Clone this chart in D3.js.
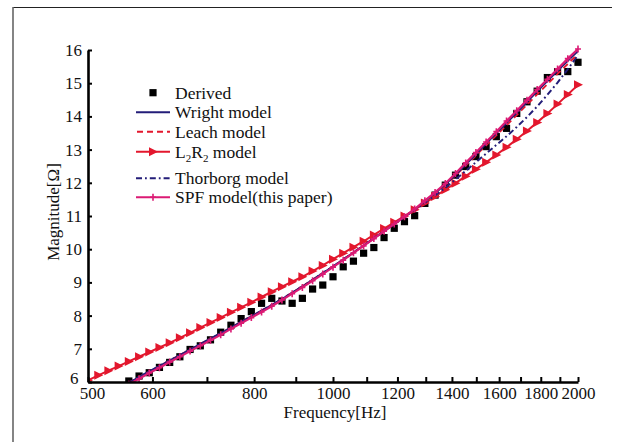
<!DOCTYPE html>
<html>
<head>
<meta charset="utf-8">
<script src="https://cdn.jsdelivr.net/npm/d3@7"></script>
<style>
  html, body { margin: 0; padding: 0; background: #fff; }
  svg { display: block; }
  text { font-family: "Liberation Serif", "Times New Roman", serif; fill: #111; }
</style>
</head>
<body>
<svg id="chart" width="625" height="442"></svg>
<script>
// Frequency grid (Hz), log-spaced from 500 to 2000
const frequency = [500.0, 514.7, 529.7, 545.3, 561.2, 577.7, 594.6, 612.0, 630.0, 648.4,
  667.4, 687.0, 707.1, 727.8, 749.2, 771.1, 793.7, 817.0, 840.9, 865.5,
  890.9, 917.0, 943.9, 971.5, 1000.0, 1029.3, 1059.5, 1090.5, 1122.5, 1155.4,
  1189.2, 1224.1, 1259.9, 1296.8, 1334.8, 1374.0, 1414.2, 1455.7, 1498.3, 1542.2,
  1587.4, 1633.9, 1681.8, 1731.1, 1781.8, 1834.0, 1887.7, 1943.1, 2000.0];

// Measured (derived) impedance magnitude, from 561 Hz upward
const derivedFreq = frequency.slice(4);
const derived = [6.03, 6.18, 6.28, 6.44, 6.59, 6.76, 6.98, 7.09, 7.27, 7.50,
  7.71, 7.91, 8.12, 8.37, 8.52, 8.44, 8.37, 8.52, 8.80, 8.92,
  9.17, 9.47, 9.64, 9.88, 10.05, 10.35, 10.63, 10.83, 11.01, 11.38,
  11.63, 11.93, 12.23, 12.49, 12.79, 13.09, 13.39, 13.64, 14.09, 14.44,
  14.76, 15.17, 15.35, 15.35, 15.63];

// Model curves share the same grid as the derived points
const modelFreq = frequency.slice(4);
const wright = [5.98, 6.15, 6.32, 6.48, 6.65, 6.81, 6.98, 7.14, 7.31, 7.47,
  7.64, 7.81, 7.98, 8.15, 8.32, 8.50, 8.69, 8.88, 9.08, 9.28,
  9.48, 9.69, 9.90, 10.11, 10.33, 10.54, 10.76, 10.98, 11.20, 11.44,
  11.69, 11.95, 12.24, 12.55, 12.86, 13.18, 13.49, 13.80, 14.11, 14.43,
  14.75, 15.06, 15.37, 15.67, 15.97];
const leach = [5.98, 6.15, 6.32, 6.48, 6.65, 6.81, 6.98, 7.14, 7.31, 7.47,
  7.64, 7.81, 7.98, 8.15, 8.32, 8.50, 8.69, 8.88, 9.08, 9.28,
  9.48, 9.69, 9.90, 10.11, 10.33, 10.54, 10.76, 10.98, 11.20, 11.44,
  11.69, 11.94, 12.22, 12.52, 12.82, 13.13, 13.43, 13.73, 14.04, 14.35,
  14.66, 14.97, 15.28, 15.58, 15.88];
const thorborg = [5.98, 6.15, 6.32, 6.48, 6.65, 6.81, 6.98, 7.14, 7.31, 7.47,
  7.64, 7.81, 7.98, 8.15, 8.32, 8.50, 8.69, 8.88, 9.08, 9.28,
  9.48, 9.69, 9.90, 10.11, 10.33, 10.54, 10.76, 10.97, 11.18, 11.40,
  11.62, 11.85, 12.10, 12.36, 12.62, 12.88, 13.14, 13.40, 13.68, 13.98,
  14.30, 14.65, 15.02, 15.42, 15.85];
const spf = [5.93, 6.10, 6.27, 6.43, 6.60, 6.76, 6.93, 7.09, 7.26, 7.42,
  7.60, 7.77, 7.94, 8.11, 8.28, 8.47, 8.66, 8.85, 9.05, 9.25,
  9.46, 9.67, 9.89, 10.10, 10.32, 10.54, 10.76, 10.98, 11.21, 11.46,
  11.71, 11.98, 12.28, 12.60, 12.91, 13.23, 13.54, 13.86, 14.17, 14.49,
  14.81, 15.12, 15.43, 15.74, 16.03];

// L2R2 model over the full grid from 500 Hz
const l2r2 = [6.05, 6.20, 6.34, 6.48, 6.62, 6.76, 6.90, 7.04, 7.18, 7.33,
  7.48, 7.64, 7.79, 7.94, 8.10, 8.25, 8.40, 8.56, 8.72, 8.87,
  9.02, 9.17, 9.34, 9.51, 9.70, 9.88, 10.06, 10.24, 10.43, 10.62,
  10.81, 11.00, 11.19, 11.39, 11.59, 11.79, 11.99, 12.20, 12.41, 12.62,
  12.84, 13.07, 13.31, 13.56, 13.82, 14.09, 14.37, 14.66, 14.95];

// Axis ticks
const xTicks = [500, 600, 700, 800, 900, 1000, 1100, 1200, 1300, 1400, 1500, 1600, 1700, 1800, 1900, 2000];
const xTickLabels = [500, 600, 800, 1000, 1200, 1400, 1600, 1800, 2000];
const yTicks = [6, 7, 8, 9, 10, 11, 12, 13, 14, 15, 16];

const NAVY = "#231d78";
const RED = "#e3172d";
const PINK = "#db1a74";
const FONT = "'Liberation Serif', 'Times New Roman', serif";

const svg = d3.select("#chart");

// outer frame edges
svg.append("line").attr("x1", 13).attr("y1", 7.5).attr("x2", 612).attr("y2", 7.5)
  .attr("stroke", "#222").attr("stroke-width", 1.2);
svg.append("line").attr("x1", 13).attr("y1", 7).attr("x2", 13).attr("y2", 442)
  .attr("stroke", "#666").attr("stroke-width", 1.6);

const x = d3.scaleLog().domain([500, 2000]).range([88, 578]);
const y = d3.scaleLinear().domain([6, 16]).range([382, 50]);

svg.append("defs").append("clipPath").attr("id", "plot-clip")
  .append("rect").attr("x", 88).attr("y", 40).attr("width", 500).attr("height", 342);

const plot = svg.append("g").attr("clip-path", "url(#plot-clip)");

// Derived points
plot.append("g").selectAll("rect").data(derived).join("rect")
  .attr("x", (d, i) => x(derivedFreq[i]) - 3.6)
  .attr("y", d => y(d) - 3.6)
  .attr("width", 7.2).attr("height", 7.2)
  .attr("fill", "#000");

const lineOf = (fs) => d3.line().x((d, i) => x(fs[i])).y(d => y(d));

// L2R2 model: red line with right-pointing triangles
plot.append("path").datum(l2r2).attr("d", lineOf(frequency))
  .attr("fill", "none").attr("stroke", RED).attr("stroke-width", 2);
const triRight = "M-4,-4.5L5,0L-4,4.5Z";
plot.append("g").selectAll("path").data(l2r2).join("path")
  .attr("d", triRight)
  .attr("transform", (d, i) => `translate(${x(frequency[i])},${y(d)})`)
  .attr("fill", RED);

// Thorborg model: navy dash-dot
plot.append("path").datum(thorborg).attr("d", lineOf(modelFreq))
  .attr("fill", "none").attr("stroke", NAVY).attr("stroke-width", 2)
  .attr("stroke-dasharray", "6,3,1.8,3");

// Leach model: red dashed
plot.append("path").datum(leach).attr("d", lineOf(modelFreq))
  .attr("fill", "none").attr("stroke", RED).attr("stroke-width", 1.8)
  .attr("stroke-dasharray", "6,4");

// Wright model: navy solid
plot.append("path").datum(wright).attr("d", lineOf(modelFreq))
  .attr("fill", "none").attr("stroke", NAVY).attr("stroke-width", 1.8);

// SPF model: magenta line with small plus markers
plot.append("path").datum(spf).attr("d", lineOf(modelFreq))
  .attr("fill", "none").attr("stroke", PINK).attr("stroke-width", 2.2);
const plus = "M-3,0L3,0M0,-3.5L0,3.5";
plot.append("g").selectAll("path").data(spf).join("path")
  .attr("d", plus)
  .attr("transform", (d, i) => `translate(${x(modelFreq[i])},${y(d)})`)
  .attr("stroke", PINK).attr("stroke-width", 1.6).attr("fill", "none");

// Axes
const xAxis = d3.axisBottom(x)
  .tickValues(xTicks)
  .tickFormat(d => xTickLabels.includes(d) ? String(d) : "")
  .tickSizeInner(-5).tickSizeOuter(0).tickPadding(5);
const gx = svg.append("g").attr("transform", "translate(0,382)").call(xAxis);
gx.select(".domain").attr("stroke", "#000").attr("stroke-width", 2.6);
gx.selectAll(".tick line").attr("stroke", "#000").attr("stroke-width", 2);
gx.selectAll(".tick text").attr("font-size", 17).attr("fill", "#111").attr("font-family", FONT);
// nudge the first frequency label clear of the lowest magnitude label
gx.selectAll(".tick text").filter(d => d === 500).attr("dx", 4);

const yAxis = d3.axisLeft(y)
  .tickValues(yTicks)
  .tickFormat(d3.format("d"))
  .tickSizeInner(-4).tickSizeOuter(0).tickPadding(6);
const gy = svg.append("g").attr("transform", "translate(88,0)").call(yAxis);
gy.select(".domain").attr("stroke", "#000").attr("stroke-width", 2.6);
gy.selectAll(".tick line").attr("stroke", "#000").attr("stroke-width", 2);
gy.selectAll(".tick text").attr("font-size", 17).attr("fill", "#111").attr("font-family", FONT);
gy.selectAll(".tick text").filter(d => d === 6).attr("dy", "0.08em").attr("x", -9.5);

// Axis titles
svg.append("text").attr("x", 335).attr("y", 418).attr("text-anchor", "middle")
  .attr("font-size", 17).text("Frequency[Hz]");
svg.append("text").attr("transform", "translate(59,212) rotate(-90)")
  .attr("text-anchor", "middle").attr("font-size", 17).text("Magnitude[Ω]");

// Legend
const legend = svg.append("g");
const lx0 = 136, lx1 = 170, lmx = 153, ltx = 175;
const rows = [
  { key: "derived", y: 92.7, label: "Derived" },
  { key: "wright", y: 112.3, label: "Wright model" },
  { key: "leach", y: 131.7, label: "Leach model" },
  { key: "l2r2", y: 151.7, label: null },
  { key: "thorborg", y: 178.3, label: "Thorborg model" },
  { key: "spf", y: 197.3, label: "SPF model(this paper)" }
];
rows.forEach(r => {
  const g = legend.append("g");
  if (r.key === "derived") {
    g.append("rect").attr("x", lmx - 3.6).attr("y", r.y - 3.6).attr("width", 7.2).attr("height", 7.2).attr("fill", "#000");
  } else {
    const ln = g.append("line").attr("x1", lx0).attr("x2", lx1).attr("y1", r.y).attr("y2", r.y)
      .attr("stroke-width", 2);
    if (r.key === "wright") ln.attr("stroke", NAVY);
    if (r.key === "leach") ln.attr("stroke", RED).attr("stroke-dasharray", "6,4").attr("x1", lx0 + 1);
    if (r.key === "l2r2") {
      ln.attr("stroke", RED);
      g.append("path").attr("d", triRight).attr("transform", `translate(${lmx},${r.y})`).attr("fill", RED);
    }
    if (r.key === "thorborg") ln.attr("stroke", NAVY).attr("stroke-dasharray", "6,3,1.8,3");
    if (r.key === "spf") {
      ln.attr("stroke", PINK);
      g.append("path").attr("d", plus).attr("transform", `translate(${lmx},${r.y})`)
        .attr("stroke", PINK).attr("stroke-width", 1.6);
    }
  }
  const t = g.append("text").attr("x", ltx).attr("y", r.y + 6).attr("font-size", 17.5);
  if (r.label) {
    t.text(r.label);
  } else {
    t.append("tspan").text("L");
    t.append("tspan").attr("font-size", 11).attr("dy", 4).text("2");
    t.append("tspan").attr("dy", -4).text("R");
    t.append("tspan").attr("font-size", 11).attr("dy", 4).text("2");
    t.append("tspan").attr("dy", -4).text(" model");
  }
});
</script>
</body>
</html>
